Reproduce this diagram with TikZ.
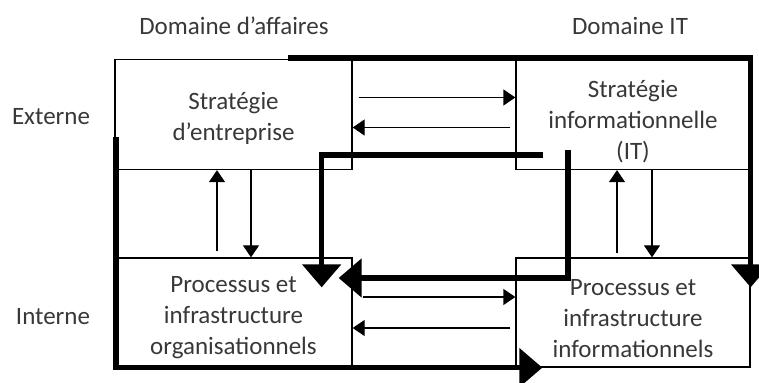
\documentclass[tikz,border=0pt]{standalone}
\usepackage{fontspec}
\setmainfont{Carlito}
\usetikzlibrary{arrows.meta,calc}

\tikzset{
  bloc/.style={draw,line width=0.65pt,minimum width=118.5pt,minimum height=55pt,inner sep=0pt},
  bloctxt/.style={align=center,inner sep=0pt,text=black!78,font=\fontsize{12.5}{15.5}\selectfont},
  etiq/.style={text=black!78,font=\fontsize{12.5}{15}\selectfont},
  fin/.style={line width=0.65pt,-{Triangle[length=6pt,width=8pt]}},
  gros/.style={line width=2.6pt,-{Triangle[length=11.5pt,width=19pt]}}
}

\begin{document}
\begin{tikzpicture}[x=0.5pt,y=-0.5pt]
  \useasboundingbox (0,0) rectangle (759,383);
  \node[bloc,label={[bloctxt,yshift=-2pt]center:Stratégie\\d’entreprise}] (TL) at (233.5,114.5) {};
  \node[bloc,minimum width=117pt,label={[bloctxt,yshift=-3.5pt]center:Stratégie\\informationnelle\\(IT)}] (TR) at (633,114.5) {};
  \node[bloc,minimum height=54.5pt,label={[bloctxt,yshift=-2.5pt]center:Processus et\\infrastructure\\organisationnels}] (BL) at (233.5,312.5) {};
  \node[bloc,minimum width=117pt,minimum height=54.5pt,label={[bloctxt,yshift=-3pt]center:Processus et\\infrastructure\\informationnels}] (BR) at (633,312.5) {};
  \node[etiq] (dA) at (234,26) {Domaine d’affaires};
  \node[etiq] (dI) at (630,26) {Domaine IT};
  \node[etiq] (ext) at (51,117) {Externe};
  \node[etiq] (int) at (53,317) {Interne};
  \draw[fin] ($(TL.east)+(6,-17)$) -- ($(TR.west)+(0,-17)$);
  \draw[fin] ($(TR.west)+(-5,13)$) -- ($(TL.east)+(0,13)$);
  \draw[fin] ($(BL.east)+(10,-15.5)$) -- ($(BR.west)+(0,-15.5)$);
  \draw[fin] ($(BR.west)+(-5,15.5)$) -- ($(BL.east)+(0,15.5)$);
  \draw[fin] ($(BL.north)+(-16.5,-6)$) -- ($(TL.south)+(-16.5,0)$);
  \draw[fin] ($(TL.south)+(17.5,0)$) -- ($(BL.north)+(17.5,0)$);
  \draw[fin] ($(BR.north)+(-16,-4)$) -- ($(TR.south)+(-16,0)$);
  \draw[fin] ($(TR.south)+(19,0)$) -- ($(BR.north)+(19,0)$);
  \coordinate (a0) at (288,58);
  \coordinate (b0) at (116,137);
  \coordinate (c0) at (543,155);
  \coordinate (d0) at (568,150);
  \draw[gros] (a0) -| ($(BR.north east)+(0,30)$);
  \draw[gros] (b0) |- ($(BR.south west)+(27,0)$);
  \draw[gros] (c0) -| ($(BL.north east)+(-31,30)$);
  \draw[gros] (d0) |- ($(BL.east)+(-14,-34.5)$);
\end{tikzpicture}
\end{document}
